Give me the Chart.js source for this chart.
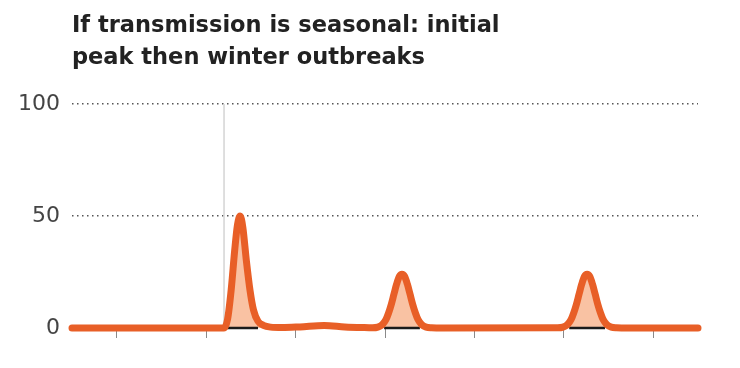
<!DOCTYPE html>
<html>
<head>
<meta charset="utf-8">
<script src="https://cdn.jsdelivr.net/npm/chart.js@4"></script>
<style>
  html, body { margin: 0; padding: 0; background: #fff; }
  #wrap { width: 740px; height: 368px; }
</style>
</head>
<body>
<div id="wrap"><canvas id="myChart"></canvas></div>
<script>
// chart values
const titleLines = ['If transmission is seasonal: initial', 'peak then winter outbreaks'];
const timeX = [0, 17, 17.4, 17.8, 18.2, 18.5, 18.8, 19.1, 19.5, 19.9, 20.3, 20.8, 21.4, 22.2, 23.5, 25.5, 28.2, 30.5, 32.5,
  33.6, 34.2, 34.7, 35.1, 35.4, 35.7, 36, 36.3, 36.6, 36.9, 37.2, 37.5, 37.8, 38.1, 38.4, 38.7, 39.1, 39.6, 40.2, 41.5,
  54.3, 54.9, 55.4, 55.8, 56.1, 56.4, 56.7, 57, 57.3, 57.6, 57.9, 58.2, 58.5, 58.8, 59.1, 59.4, 59.8, 60.3, 60.9, 62.2, 70];
const cases = [0, 0, 4, 17, 35, 46, 50, 45, 30, 17, 8, 3, 1.2, 0.4, 0.2, 0.5, 1.1, 0.5, 0.2,
  0.1, 0.4, 1.5, 3.7, 6.7, 10.5, 15.1, 19.6, 23, 24, 23, 19.6, 15.1, 10.5, 6.7, 3.7, 1.5, 0.4, 0.1, 0,
  0.1, 0.4, 1.5, 3.7, 6.7, 10.5, 15.1, 19.6, 23, 24, 23, 19.6, 15.1, 10.5, 6.7, 3.7, 1.5, 0.4, 0.1, 0, 0];
const peakSpans = [[17.3, 20.8], [34.9, 38.9], [55.6, 59.6]];
const markerX = 17;
const xTicks = [5, 15, 25, 35, 45, 55, 65];
const yTicks = [0, 50, 100];

const orange = '#e85f27';

const linePoints = timeX.map((x, i) => ({ x: x, y: cases[i] }));

const basePoints = [];
peakSpans.forEach(span => {
  basePoints.push({ x: span[0], y: 0 }, { x: span[1], y: 0 }, { x: span[1] + 0.01, y: null });
});

const ctx = document.getElementById('myChart').getContext('2d');

new Chart(ctx, {
  type: 'line',
  data: {
    datasets: [
      {
        data: linePoints,
        borderColor: orange,
        borderWidth: 7,
        borderCapStyle: 'round',
        borderJoinStyle: 'round',
        backgroundColor: '#f9c2a3',
        fill: 'origin',
        cubicInterpolationMode: 'monotone',
        pointRadius: 0,
        clip: false,
        order: 0
      },
      {
        data: basePoints,
        borderColor: '#1b1b1b',
        borderWidth: 2.5,
        pointRadius: 0,
        spanGaps: false,
        fill: false,
        clip: false,
        order: 1
      },
      {
        data: [{ x: markerX, y: 0 }, { x: markerX, y: 100 }],
        borderColor: '#d4d4d4',
        borderWidth: 1.5,
        pointRadius: 0,
        fill: false,
        order: 2
      }
    ]
  },
  options: {
    responsive: true,
    maintainAspectRatio: false,
    animation: false,
    events: [],
    layout: { padding: { top: 10, right: 42, bottom: 30, left: 0 } },
    plugins: {
      legend: { display: false },
      tooltip: { enabled: false },
      filler: { drawTime: 'beforeDatasetsDraw' },
      title: {
        display: true,
        text: titleLines,
        align: 'start',
        fullSize: false,
        color: '#222',
        font: { family: 'DejaVu Sans', size: 22.5, weight: 'bold', lineHeight: 32 / 22.5 },
        padding: { top: 0, bottom: 30 }
      }
    },
    scales: {
      x: {
        type: 'linear',
        min: 0,
        max: 70,
        afterBuildTicks: scale => {
          scale.ticks = xTicks.map(v => ({ value: v }));
        },
        border: { display: false },
        grid: {
          drawOnChartArea: false,
          drawTicks: true,
          tickLength: 10,
          color: '#8a8a8a',
          lineWidth: 1
        },
        ticks: { display: false }
      },
      y: {
        min: 0,
        max: 100,
        afterBuildTicks: scale => {
          scale.ticks = yTicks.map(v => ({ value: v }));
        },
        afterFit: scale => {
          scale.width = 72;
        },
        border: { display: false, dash: [1.5, 3.5] },
        grid: {
          drawTicks: false,
          color: c => (c.tick && c.tick.value === 0 ? 'rgba(0,0,0,0)' : '#555'),
          lineWidth: 1.5
        },
        ticks: {
          padding: 12,
          color: '#444',
          font: { family: 'DejaVu Sans', size: 22, weight: 'normal' }
        }
      }
    }
  }
});
</script>
</body>
</html>
